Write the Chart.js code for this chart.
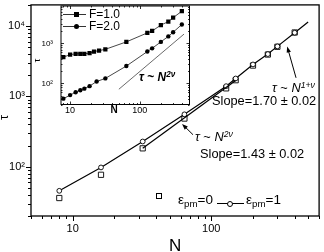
<!DOCTYPE html>
<html><head><meta charset="utf-8">
<script src="https://cdn.jsdelivr.net/npm/chart.js@4.4.1/dist/chart.umd.min.js"></script>
<style>
html,body{margin:0;padding:0;background:#fff;}
#wrap{position:relative;width:324px;height:252px;overflow:hidden;font-family:"Liberation Sans",Arial,Helvetica,sans-serif;color:#000;}
canvas{position:absolute;}
.t{position:absolute;white-space:nowrap;line-height:1;}
.t sup{font-size:0.68em;vertical-align:0.5em;line-height:0;}
.t sub{font-size:0.72em;vertical-align:-0.35em;line-height:0;}
.mk{position:absolute;box-sizing:border-box;}
.rot{transform:rotate(-90deg);transform-origin:50% 50%;}
</style></head><body>
<div id="wrap">
<canvas id="main" width="324" height="252" style="left:0;top:0;width:324px;height:252px"></canvas>
<canvas id="inset" width="160" height="118" style="left:34px;top:2px;width:160px;height:118px"></canvas>

<div class="t rot" style="left:0px;top:110.5px;width:7px;text-align:center;font-size:13px">τ</div>
<div class="t rot" style="left:34.5px;top:55.5px;width:5px;text-align:center;font-size:9px">τ</div>
<div class="t" style="left:109px;top:105px;width:10px;text-align:center;font-size:10px;font-weight:bold">N</div>

<div class="t" style="left:272px;top:82px;font-size:12.8px"><i>τ</i> ~ <i>N</i><sup><i>1+ν</i></sup></div>
<div class="t" style="left:212px;top:94.5px;font-size:12.8px">Slope=1.70 ± 0.02</div>
<div class="t" style="left:195px;top:130.5px;font-size:12.8px"><i>τ</i> ~ <i>N</i><sup><i>2ν</i></sup></div>
<div class="t" style="left:200px;top:148px;font-size:12.8px">Slope=1.43 ± 0.02</div>

<div class="mk" style="left:156px;top:193px;width:6px;height:6px;border:1px solid #000"></div>
<div class="t" style="left:178px;top:193px;font-size:13.5px">ε<sub>pm</sub>=0</div>
<div class="mk" style="left:217px;top:203px;width:27px;height:1px;background:#000"></div>
<div class="mk" style="left:227px;top:200.5px;width:6px;height:6px;border:1px solid #000;border-radius:50%;background:#fff"></div>
<div class="t" style="left:246px;top:193px;font-size:13.5px">ε<sub>pm</sub>=1</div>

<div class="mk" style="left:63px;top:13.5px;width:23px;height:1px;background:#333"></div>
<div class="mk" style="left:73.5px;top:11.5px;width:5px;height:5px;background:#000"></div>
<div class="t" style="left:89px;top:8px;font-size:12px">F=1.0</div>
<div class="mk" style="left:63px;top:25.5px;width:23px;height:1px;background:#333"></div>
<div class="mk" style="left:73.5px;top:23.5px;width:5px;height:5px;background:#000;border-radius:50%"></div>
<div class="t" style="left:89px;top:20px;font-size:12px">F=2.0</div>
<div class="t" style="left:139px;top:71px;font-size:12px;font-weight:bold"><i>τ</i> ~ <i>N</i><sup><i>2ν</i></sup></div>
</div>
<script>
// ---- main plot data ----
const mainN   = [8, 16, 32, 64, 128, 150, 200, 256, 300, 400];
const tauEps0 = [36, 77, 183, 485, 1303, 1702, 2746, 3940, 5080, 8110];
const curveN  = [8, 16, 32, 64, 128, 150, 200, 256, 300, 400, 500];
const tauEps1 = [45.6, 98, 229, 557, 1400, 1800, 2850, 4000, 5150, 8050, 11400];
const fitN    = [32, 150];
const tauFit  = [183, 1690];
const xTickVals = [10, 100];
const xTickLabels = ['10', '100'];
const yTickVals = [100, 1000, 10000];
const yTickLabels = ['10²', '10³', '10⁴'];

// ---- inset data ----
const insetN1 = [8, 10, 12, 14, 16, 19, 22, 26, 32, 64, 128, 150, 200, 256, 300, 400];
const tauF1   = [455, 520, 550, 550, 550, 568, 624, 659, 710, 1086, 1820, 2030, 2840, 3480, 4350, 6310];
const insetN2 = [8, 10, 12, 14, 16, 19, 24, 32, 64, 128, 150, 200, 256, 300, 400];
const tauF2   = [41.9, 51.4, 60.7, 67.8, 74.5, 86, 112, 134, 272, 624, 750, 1086, 1490, 1890, 2950];
const refN    = [50, 430];
const tauRef  = [72, 1700];
const insetXTickVals = [10, 100];
const insetXTickLabels = ['10', '100'];
const insetYTickVals = [100, 1000];
const insetYTickLabels = ['10²', '10³'];

// annotation arrows (data coordinates)
const arrows = [
  {from: [409, 1841], to: [353, 5130]},
  {from: [73.8, 286], to: [61.5, 407]}
];

const FAM = '"Liberation Sans", Arial, Helvetica, sans-serif';
const pts = (xs, ys) => xs.map((x, i) => ({x: x, y: ys[i]}));
const noPad = s => { s.paddingTop = 0; s.paddingBottom = 0; s.paddingLeft = 0; s.paddingRight = 0; };

function logTicks(min, max) {
  const major = [], minor = [];
  for (let e = Math.floor(Math.log10(min)); e <= Math.ceil(Math.log10(max)); e++) {
    for (let m = 1; m < 10; m++) {
      const v = m * Math.pow(10, e);
      if (v < min * 0.9999 || v > max * 1.0001) continue;
      (m === 1 ? major : minor).push(v);
    }
  }
  return {major, minor};
}

function framePlugin(cfg) {
  return {
    id: 'frame' + cfg.id,
    beforeDraw(chart) {
      if (cfg.fill) {
        const a = chart.chartArea, c = chart.ctx;
        c.save(); c.fillStyle = '#fff';
        c.fillRect(a.left, a.top, a.right - a.left, a.bottom - a.top);
        c.restore();
      }
    },
    afterDraw(chart) {
      const {ctx, chartArea: a, scales} = chart;
      const xs = scales.x, ys = scales.y;
      ctx.save();
      ctx.strokeStyle = '#000';
      ctx.lineWidth = cfg.lw;
      ctx.strokeRect(a.left, a.top, a.right - a.left, a.bottom - a.top);
      ctx.lineWidth = cfg.tlw;
      const xt = logTicks(xs.min, xs.max), yt = logTicks(ys.min, ys.max);
      const dir = cfg.inward ? -1 : 1;
      const drawX = (vals, len) => vals.forEach(v => {
        const p = Math.round(xs.getPixelForValue(v)) + 0.5;
        ctx.beginPath(); ctx.moveTo(p, a.bottom); ctx.lineTo(p, a.bottom + dir * len); ctx.stroke();
        if (cfg.mirror) { ctx.beginPath(); ctx.moveTo(p, a.top); ctx.lineTo(p, a.top - dir * len); ctx.stroke(); }
      });
      const drawY = (vals, len) => vals.forEach(v => {
        const p = Math.round(ys.getPixelForValue(v)) + 0.5;
        ctx.beginPath(); ctx.moveTo(a.left, p); ctx.lineTo(a.left - dir * len, p); ctx.stroke();
        if (cfg.mirror) { ctx.beginPath(); ctx.moveTo(a.right, p); ctx.lineTo(a.right + dir * len, p); ctx.stroke(); }
      });
      drawX(xt.major, cfg.major); drawX(xt.minor, cfg.minor);
      drawY(yt.major, cfg.major); drawY(yt.minor, cfg.minor);
      ctx.restore();
    }
  };
}

const arrowPlugin = {
  id: 'arrows',
  afterDatasetsDraw(chart) {
    const {ctx, scales: {x, y}} = chart;
    ctx.save();
    ctx.strokeStyle = '#000'; ctx.fillStyle = '#000'; ctx.lineWidth = 1;
    arrows.forEach(a => {
      const x0 = x.getPixelForValue(a.from[0]), y0 = y.getPixelForValue(a.from[1]);
      const x1 = x.getPixelForValue(a.to[0]), y1 = y.getPixelForValue(a.to[1]);
      const ang = Math.atan2(y1 - y0, x1 - x0);
      ctx.beginPath(); ctx.moveTo(x0, y0); ctx.lineTo(x1 - 3 * Math.cos(ang), y1 - 3 * Math.sin(ang)); ctx.stroke();
      const L = 6, W = 2.2;
      ctx.beginPath();
      ctx.moveTo(x1, y1);
      ctx.lineTo(x1 - L * Math.cos(ang) + W * Math.sin(ang), y1 - L * Math.sin(ang) - W * Math.cos(ang));
      ctx.lineTo(x1 - L * Math.cos(ang) - W * Math.sin(ang), y1 - L * Math.sin(ang) + W * Math.cos(ang));
      ctx.closePath(); ctx.fill();
    });
    ctx.restore();
  }
};

// ---- main chart ----
new Chart(document.getElementById('main'), {
  type: 'scatter',
  data: {datasets: [
    {label: 'fit 2ν', data: pts(fitN, tauFit), showLine: true, borderColor: '#000', borderWidth: 1.2, pointRadius: 0},
    {label: 'εpm=1', data: pts(curveN, tauEps1), showLine: true, borderColor: '#000', borderWidth: 1.2,
      pointRadius: c => (c.dataIndex < curveN.length - 1 ? 2.4 : 0), pointStyle: 'circle',
      pointBackgroundColor: '#fff', pointBorderColor: '#000', pointBorderWidth: 0.9},
    {label: 'εpm=0', data: pts(mainN, tauEps0), showLine: false, pointStyle: 'rect', pointRadius: 3.7,
      pointBackgroundColor: 'rgba(0,0,0,0)', pointBorderColor: '#000', pointBorderWidth: 0.9}
  ]},
  options: {
    responsive: false, animation: false, events: [],
    layout: {padding: {top: 1, right: 1, left: 0, bottom: 0}},
    plugins: {legend: {display: false}, tooltip: {enabled: false}},
    scales: {
      x: {type: 'logarithmic', min: 5, max: 600, position: 'bottom',
        afterBuildTicks: s => { s.ticks = xTickVals.map(v => ({value: v})); },
        afterFit: s => { s.height = 36; noPad(s); },
        grid: {display: false, drawTicks: false, tickLength: 0}, border: {display: false},
        ticks: {font: {family: FAM, size: 11}, color: '#000', padding: 6, autoSkip: false, maxRotation: 0,
          callback: (v, i) => xTickLabels[i]},
        title: {display: true, text: 'N', color: '#000', font: {family: FAM, size: 17, lineHeight: 1}, padding: {top: 0, bottom: -3}}
      },
      y: {type: 'logarithmic', min: 20, max: 20000, position: 'left',
        afterBuildTicks: s => { s.ticks = yTickVals.map(v => ({value: v})); },
        afterFit: s => { s.width = 31; noPad(s); },
        grid: {display: false, drawTicks: false, tickLength: 0}, border: {display: false},
        ticks: {font: {family: FAM, size: 11}, color: '#000', padding: 6, autoSkip: false,
          callback: (v, i) => yTickLabels[i]}
      }
    }
  },
  plugins: [framePlugin({id: 'm', lw: 1.3, tlw: 1, major: 5, minor: 3, inward: false, mirror: false}), arrowPlugin]
});

// ---- inset chart ----
new Chart(document.getElementById('inset'), {
  type: 'scatter',
  data: {datasets: [
    {label: 'N^2ν', data: pts(refN, tauRef), showLine: true, borderColor: '#444', borderWidth: 0.8, pointRadius: 0},
    {label: 'F=1.0', data: pts(insetN1, tauF1), showLine: true, borderColor: '#333', borderWidth: 0.9,
      pointStyle: 'rect', pointRadius: 3, pointBackgroundColor: '#000', pointBorderColor: '#000', pointBorderWidth: 0},
    {label: 'F=2.0', data: pts(insetN2, tauF2), showLine: true, borderColor: '#333', borderWidth: 0.9,
      pointStyle: 'circle', pointRadius: 2.2, pointBackgroundColor: '#000', pointBorderColor: '#000', pointBorderWidth: 0}
  ]},
  options: {
    responsive: false, animation: false, events: [],
    layout: {padding: {top: 1, right: 4.5, left: 0, bottom: 0}},
    plugins: {legend: {display: false}, tooltip: {enabled: false}},
    scales: {
      x: {type: 'logarithmic', min: 7.4, max: 515, position: 'bottom',
        afterBuildTicks: s => { s.ticks = insetXTickVals.map(v => ({value: v})); },
        afterFit: s => { s.height = 15.5; noPad(s); },
        grid: {display: false, drawTicks: false, tickLength: 0}, border: {display: false},
        ticks: {font: {family: FAM, size: 9}, color: '#000', padding: 1, autoSkip: false, maxRotation: 0,
          callback: (v, i) => insetXTickLabels[i]}
      },
      y: {type: 'logarithmic', min: 30, max: 8500, position: 'left',
        afterBuildTicks: s => { s.ticks = insetYTickVals.map(v => ({value: v})); },
        afterFit: s => { s.width = 27; noPad(s); },
        grid: {display: false, drawTicks: false, tickLength: 0}, border: {display: false},
        ticks: {font: {family: FAM, size: 8}, color: '#000', padding: 8, autoSkip: false,
          callback: (v, i) => insetYTickLabels[i]}
      }
    }
  },
  plugins: [framePlugin({id: 'i', lw: 1, tlw: 0.8, major: 3, minor: 1.5, inward: true, mirror: true, fill: true})]
});
</script>
</body></html>
